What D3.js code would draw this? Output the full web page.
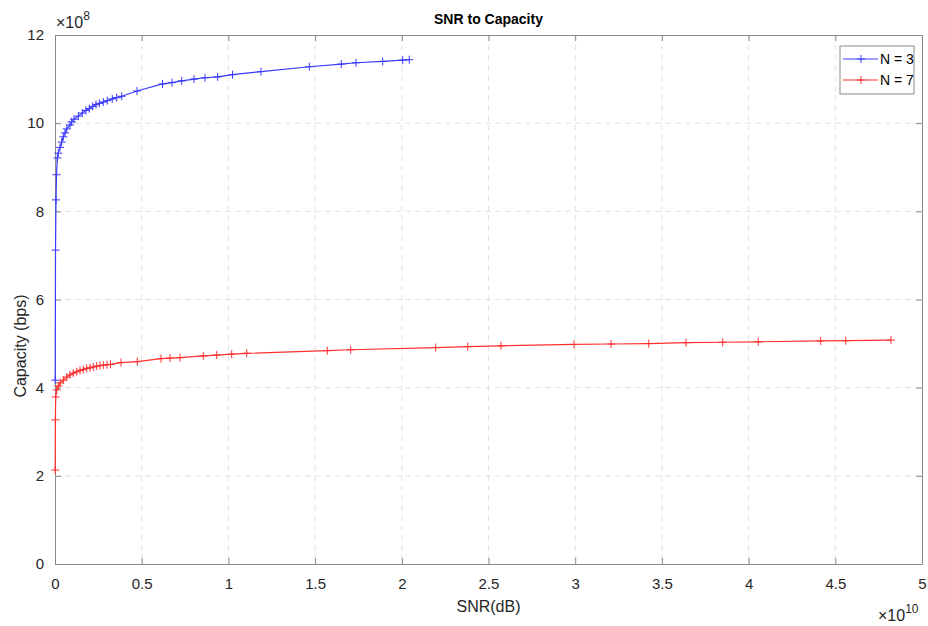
<!DOCTYPE html>
<html>
<head>
<meta charset="utf-8">
<script src="https://cdn.jsdelivr.net/npm/d3@7"></script>
<style>
  body { margin: 0; background: #fff; }
  svg { font-family: "Liberation Sans", Arial, Helvetica, sans-serif; }
</style>
</head>
<body>
<div id="chart"></div>
<script>
// SNR values are in units of 1e10, capacity in units of 1e8
var snr3 = [0.0012, 0.003, 0.0058, 0.0087, 0.0133, 0.019, 0.0288, 0.0386, 0.0479, 0.0577,
            0.0675, 0.0865, 0.0963, 0.1096, 0.1344, 0.1574, 0.1788, 0.1978, 0.2174, 0.2364,
            0.2555, 0.2785, 0.3016, 0.3304, 0.3558, 0.3847, 0.4729, 0.62, 0.6747, 0.7307,
            0.8016, 0.865, 0.9383, 1.0236, 1.188, 1.4666, 1.651, 1.7359, 1.8898, 2.0052, 2.0433];
var cap3 = [4.17, 7.12, 8.26, 8.83, 9.21, 9.32, 9.45, 9.57, 9.69, 9.78,
            9.87, 9.96, 10.03, 10.09, 10.16, 10.23, 10.29, 10.33, 10.38, 10.42,
            10.45, 10.48, 10.51, 10.55, 10.58, 10.61, 10.73, 10.89, 10.92, 10.96,
            11.0, 11.03, 11.05, 11.1, 11.17, 11.28, 11.34, 11.37, 11.4, 11.43, 11.44];

var snr7 = [0.0012, 0.0023, 0.004, 0.0098, 0.019, 0.0306, 0.0479, 0.0675, 0.0865, 0.1055,
            0.1251, 0.1442, 0.1632, 0.1828, 0.2018, 0.2209, 0.2405, 0.2595, 0.2785, 0.2999,
            0.3201, 0.3806, 0.4746, 0.6113, 0.6632, 0.7209, 0.8552, 0.9325, 1.019, 1.1055,
            1.5703, 1.7053, 2.1955, 2.38, 2.5721, 2.9931, 3.2065, 3.4239, 3.639, 3.8506,
            4.0559, 4.4158, 4.56, 4.8212];
var cap7 = [2.13, 3.27, 3.79, 3.95, 4.04, 4.11, 4.17, 4.24, 4.29, 4.33,
            4.36, 4.39, 4.41, 4.44, 4.45, 4.47, 4.49, 4.5, 4.51, 4.52,
            4.53, 4.57, 4.59, 4.66, 4.67, 4.68, 4.72, 4.74, 4.76, 4.78,
            4.84, 4.86, 4.91, 4.93, 4.95, 4.98, 4.99, 5.0, 5.02, 5.03,
            5.04, 5.06, 5.065, 5.08];

var xTicks = [0, 0.5, 1, 1.5, 2, 2.5, 3, 3.5, 4, 4.5, 5];
var yTicks = [0, 2, 4, 6, 8, 10, 12];
var seriesNames = ["N = 3", "N = 7"];
var seriesColors = ["#3a3aff", "#ff3030"];

var W = 928, H = 626;
var mLeft = 55, mRight = 922, mTop = 35, mBottom = 564;

var svg = d3.select("#chart").append("svg")
    .attr("width", W)
    .attr("height", H);

var x = d3.scaleLinear().domain([0, 5]).range([mLeft, mRight]);
var y = d3.scaleLinear().domain([0, 12]).range([mBottom, mTop]);

// grid
svg.append("g").selectAll("line")
    .data(xTicks.slice(1, -1)).enter().append("line")
    .attr("x1", function (d) { return x(d); })
    .attr("x2", function (d) { return x(d); })
    .attr("y1", mTop).attr("y2", mBottom)
    .attr("stroke", "#e3e3e3").attr("stroke-dasharray", "6,4");
svg.append("g").selectAll("line")
    .data(yTicks.slice(1, -1)).enter().append("line")
    .attr("y1", function (d) { return y(d); })
    .attr("y2", function (d) { return y(d); })
    .attr("x1", mLeft).attr("x2", mRight)
    .attr("stroke", "#e3e3e3").attr("stroke-dasharray", "6,4");

// axes
var xAxis = svg.append("g")
    .attr("transform", "translate(0," + mBottom + ")")
    .call(d3.axisBottom(x).tickValues(xTicks).tickSizeInner(-6).tickSizeOuter(0)
        .tickPadding(14).tickFormat(d3.format("")));
var xAxisTop = svg.append("g")
    .attr("transform", "translate(0," + mTop + ")")
    .call(d3.axisTop(x).tickValues(xTicks).tickSizeInner(-6).tickSizeOuter(0).tickFormat(""));
var yAxis = svg.append("g")
    .attr("transform", "translate(" + mLeft + ",0)")
    .call(d3.axisLeft(y).tickValues(yTicks).tickSizeInner(-6).tickSizeOuter(0)
        .tickPadding(11).tickFormat(d3.format("")));
var yAxisRight = svg.append("g")
    .attr("transform", "translate(" + mRight + ",0)")
    .call(d3.axisRight(y).tickValues(yTicks).tickSizeInner(-6).tickSizeOuter(0).tickFormat(""));

[xAxis, xAxisTop, yAxis, yAxisRight].forEach(function (g) {
    g.select(".domain").attr("stroke", "#8a8a8a");
    g.selectAll(".tick line").attr("stroke", "#8a8a8a");
    g.selectAll(".tick text").attr("fill", "#262626").style("font-size", "15px")
        .style("font-family", "'Liberation Sans', Arial, sans-serif");
});

// exponents
var e1 = svg.append("text").attr("x", 56).attr("y", 28)
    .attr("fill", "#262626").style("font-size", "16px");
e1.append("tspan").text("\u00d710");
e1.append("tspan").attr("dy", -8).style("font-size", "12px").text("8");

var e2 = svg.append("text").attr("x", 878).attr("y", 621)
    .attr("fill", "#262626").style("font-size", "16px");
e2.append("tspan").text("\u00d710");
e2.append("tspan").attr("dy", -8).style("font-size", "12px").text("10");

// labels
svg.append("text").attr("x", (mLeft + mRight) / 2).attr("y", 24)
    .attr("text-anchor", "middle").attr("fill", "#000")
    .style("font-size", "14px").style("font-weight", "bold")
    .text("SNR to Capacity");
svg.append("text").attr("x", (mLeft + mRight) / 2).attr("y", 612)
    .attr("text-anchor", "middle").attr("fill", "#262626")
    .style("font-size", "16px").text("SNR(dB)");
svg.append("text")
    .attr("transform", "translate(26,346) rotate(-90)")
    .attr("text-anchor", "middle").attr("fill", "#262626")
    .style("font-size", "16px").text("Capacity (bps)");

// series
var line = d3.line()
    .x(function (d) { return x(d[0]); })
    .y(function (d) { return y(d[1]); });

var series = [d3.zip(snr3, cap3), d3.zip(snr7, cap7)];

function plus(g, px, py, color) {
    g.append("line").attr("x1", px - 4).attr("x2", px + 4).attr("y1", py).attr("y2", py)
        .attr("stroke", color).attr("stroke-width", 1);
    g.append("line").attr("x1", px).attr("x2", px).attr("y1", py - 4).attr("y2", py + 4)
        .attr("stroke", color).attr("stroke-width", 1);
}

series.forEach(function (data, i) {
    var g = svg.append("g");
    g.append("path").datum(data)
        .attr("d", line)
        .attr("fill", "none")
        .attr("stroke", seriesColors[i])
        .attr("stroke-width", 1.2);
    data.forEach(function (d) {
        plus(g, x(d[0]), y(d[1]), seriesColors[i]);
    });
});

// legend
var lg = svg.append("g");
lg.append("rect").attr("x", 840).attr("y", 46).attr("width", 74).attr("height", 48)
    .attr("fill", "#fff").attr("stroke", "#8a8a8a");
seriesNames.forEach(function (name, i) {
    var ly = 59 + i * 21;
    lg.append("line").attr("x1", 843).attr("x2", 878).attr("y1", ly).attr("y2", ly)
        .attr("stroke", seriesColors[i]).attr("stroke-width", 1.2);
    plus(lg, 861, ly, seriesColors[i]);
    lg.append("text").attr("x", 880).attr("y", ly + 5)
        .attr("fill", "#000").style("font-size", "14px").text(name);
});
</script>
</body>
</html>
